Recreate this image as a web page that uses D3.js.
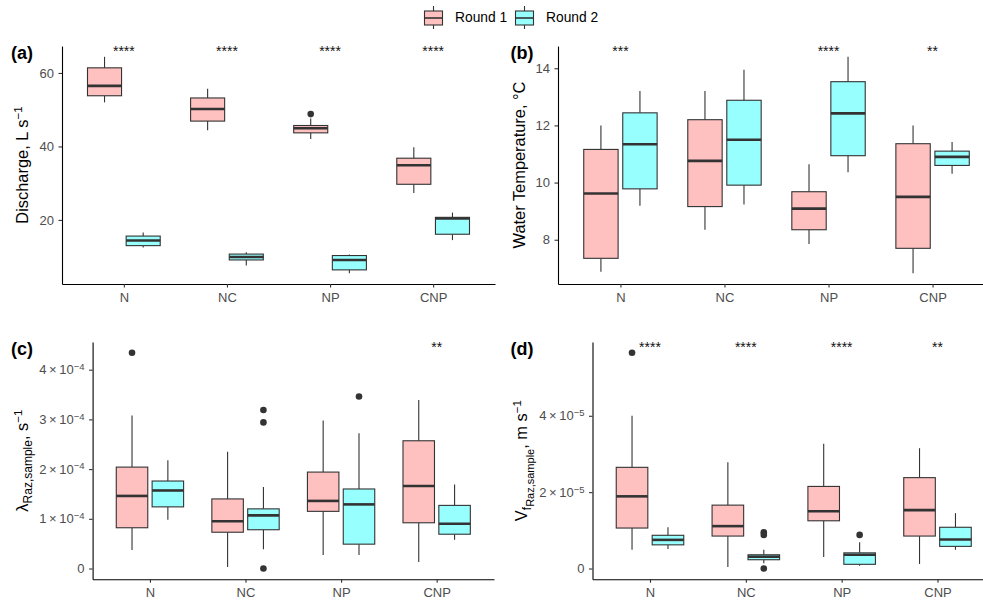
<!DOCTYPE html>
<html>
<head>
<meta charset="utf-8">
<script src="https://cdn.jsdelivr.net/npm/d3@7"></script>
<style>
body { margin: 0; background: #fff; }
svg { display: block; font-family: "Liberation Sans", Arial, Helvetica, sans-serif; }
</style>
</head>
<body>
<div id="chart"></div>
<script>
var categories = ["N", "NC", "NP", "CNP"];
var rounds = ["Round 1", "Round 2"];

// box stats per category: [lower whisker, q1, median, q3, upper whisker]
var dischargeR1 = [[52.0, 53.8, 56.5, 61.4, 64.4], [44.4, 46.9, 50.2, 53.2, 55.7], [42.0, 43.7, 44.95, 45.7, 47.6], [27.3, 29.7, 34.9, 36.8, 39.8]];
var dischargeR2 = [[12.5, 13.0, 14.4, 15.6, 16.6], [7.6, 9.1, 9.9, 10.7, 11.2], [5.5, 6.4, 9.1, 10.3, 10.6], [14.5, 16.1, 20.4, 20.7, 22.0]];
var dischargeOut = [["NP", "Round 1", 48.8]];

var tempR1 = [[6.88, 7.35, 9.62, 11.16, 12.0], [8.35, 9.16, 10.76, 12.2, 13.2], [7.85, 8.35, 9.09, 9.68, 10.64], [6.83, 7.7, 9.5, 11.36, 12.0]];
var tempR2 = [[9.19, 9.78, 11.34, 12.44, 13.2], [9.23, 9.91, 11.5, 12.88, 13.95], [10.36, 10.94, 12.42, 13.53, 14.4], [10.31, 10.6, 10.9, 11.1, 11.42]];
var tempOut = [];

// lambda, in units of 1e-4 s^-1
var lambdaR1 = [[0.37, 0.82, 1.46, 2.04, 3.08], [0.03, 0.73, 0.95, 1.40, 2.35], [0.27, 1.15, 1.36, 1.94, 2.98], [0.13, 0.92, 1.66, 2.57, 3.39]];
var lambdaR2 = [[0.98, 1.24, 1.57, 1.76, 2.18], [0.39, 0.78, 1.07, 1.20, 1.64], [0.27, 0.49, 1.29, 1.60, 2.72], [0.58, 0.69, 0.90, 1.27, 1.69]];
var lambdaOut = [["N", "Round 1", 4.34], ["NC", "Round 2", 3.19], ["NC", "Round 2", 2.94], ["NC", "Round 2", 0.0], ["NP", "Round 2", 3.46]];

// vf, in units of 1e-5 m s^-1
var vfR1 = [[0.49, 1.06, 1.89, 2.65, 4.0], [0.04, 0.85, 1.11, 1.66, 2.78], [0.30, 1.25, 1.50, 2.15, 3.27], [0.12, 0.85, 1.53, 2.38, 3.15]];
var vfR2 = [[0.51, 0.62, 0.75, 0.87, 1.08], [0.14, 0.23, 0.31, 0.36, 0.49], [0.07, 0.11, 0.36, 0.41, 0.69], [0.49, 0.58, 0.76, 1.08, 1.45]];
var vfOut = [["N", "Round 1", 5.65], ["NC", "Round 2", 0.95], ["NC", "Round 2", 0.88], ["NC", "Round 2", 0.0], ["NP", "Round 2", 0.88]];

var sigA = ["****", "****", "****", "****"];
var sigB = ["***", "", "****", "**"];
var sigC = ["", "", "", "**"];
var sigD = ["****", "****", "****", "**"];

var ticksA = [20, 40, 60];
var ticksB = [8, 10, 12, 14];
var ticksC = [0, 1, 2, 3, 4];
var ticksD = [0, 2, 4];

var W = 983, H = 601;
var svg = d3.select("#chart").append("svg")
  .attr("width", W)
  .attr("height", H);

var fill = d3.scaleOrdinal(rounds, ["#ffc0c0", "#98ffff"]);
var ink = "#333333";

var panels = [
  { label: "(a)", r1: dischargeR1, r2: dischargeR2, out: dischargeOut, sig: sigA, ticks: ticksA, exp: null,
    x0: 62, x1: 495, y0: 46, y1: 284, labX: 11, labY: 58.5, titleX: 28,
    title: [["Discharge, L s", 0, 16.4], ["\u22121", -6, 11.5]] },
  { label: "(b)", r1: tempR1, r2: tempR2, out: tempOut, sig: sigB, ticks: ticksB, exp: null,
    x0: 558, x1: 995, y0: 46, y1: 284, labX: 510.5, labY: 58.5, titleX: 525,
    title: [["Water Temperature, \u00b0C", 0, 16.4]] },
  { label: "(c)", r1: lambdaR1, r2: lambdaR2, out: lambdaOut, sig: sigC, ticks: ticksC, exp: -4,
    x0: 92.6, x1: 494, y0: 342, y1: 579.3, labX: 11, labY: 354.5, titleX: 28,
    title: [["\u03bb", 0, 16.4], ["Raz,sample", 4, 12], [", s", -4, 16.4], ["\u22121", -6, 11.5]] },
  { label: "(d)", r1: vfR1, r2: vfR2, out: vfOut, sig: sigD, ticks: ticksD, exp: -5,
    x0: 592.5, x1: 995, y0: 342, y1: 579.3, labX: 510.5, labY: 354.5, titleX: 526.5,
    title: [["V", 0, 16.4], ["f", 4, 12], ["Raz,sample", 3, 11], [", m s", -7, 16.4], ["\u22121", -6, 11.5]] }
];

panels.forEach(drawPanel);

function drawPanel(p) {
  var g = svg.append("g");

  var x = d3.scalePoint().domain(categories).range([p.x0, p.x1]).padding(0.6);
  var step = x.step();
  var dodge = d3.scaleBand().domain(rounds).range([-0.375 * step, 0.375 * step]);
  var boxW = 0.34 * step;

  var rows = [];
  categories.forEach(function (c, i) {
    rows.push({ cat: c, round: rounds[0], s: p.r1[i] });
    rows.push({ cat: c, round: rounds[1], s: p.r2[i] });
  });

  var vals = [];
  rows.forEach(function (r) { vals = vals.concat(r.s); });
  p.out.forEach(function (o) { vals.push(o[2]); });
  var lo = d3.min(vals), hi = d3.max(vals), pad = 0.05 * (hi - lo);

  var y = d3.scaleLinear()
    .domain([lo - pad, hi + pad])
    .range([p.y1, p.y0]);

  var cx = function (d) { return x(d.cat) + dodge(d.round) + dodge.bandwidth() / 2; };

  var box = g.selectAll("g.box")
    .data(rows)
    .enter().append("g")
    .attr("class", "box");

  box.append("line")
    .attr("x1", cx).attr("x2", cx)
    .attr("y1", function (d) { return y(d.s[4]); })
    .attr("y2", function (d) { return y(d.s[3]); })
    .attr("stroke", ink).attr("stroke-width", 1.1);

  box.append("line")
    .attr("x1", cx).attr("x2", cx)
    .attr("y1", function (d) { return y(d.s[1]); })
    .attr("y2", function (d) { return y(d.s[0]); })
    .attr("stroke", ink).attr("stroke-width", 1.1);

  box.append("rect")
    .attr("x", function (d) { return cx(d) - boxW / 2 + 0.5; })
    .attr("y", function (d) { return y(d.s[3]); })
    .attr("width", boxW - 1)
    .attr("height", function (d) { return y(d.s[1]) - y(d.s[3]); })
    .attr("fill", function (d) { return fill(d.round); })
    .attr("stroke", ink).attr("stroke-width", 1.1);

  box.append("line")
    .attr("x1", function (d) { return cx(d) - boxW / 2 + 0.5; })
    .attr("x2", function (d) { return cx(d) + boxW / 2 - 0.5; })
    .attr("y1", function (d) { return y(d.s[2]); })
    .attr("y2", function (d) { return y(d.s[2]); })
    .attr("stroke", ink).attr("stroke-width", 2.6);

  g.selectAll("circle.out")
    .data(p.out)
    .enter().append("circle")
    .attr("class", "out")
    .attr("cx", function (d) { return cx({ cat: d[0], round: d[1] }); })
    .attr("cy", function (d) { return y(d[2]); })
    .attr("r", 3.3)
    .attr("fill", ink);

  // significance stars
  g.selectAll("text.sig")
    .data(p.sig)
    .enter().append("text")
    .attr("class", "sig")
    .attr("x", function (d, i) { return x(categories[i]); })
    .attr("y", p.y0 + 9.7)
    .attr("text-anchor", "middle")
    .style("font-size", "14px")
    .attr("fill", "#111")
    .text(function (d) { return d; });

  // axes
  var xAxis = g.append("g")
    .attr("transform", "translate(0," + p.y1 + ")")
    .call(d3.axisBottom(x).tickSize(3.5).tickSizeOuter(0).tickPadding(5));
  xAxis.select(".domain").attr("stroke", "#000").attr("stroke-width", 1.1);
  xAxis.selectAll(".tick line").attr("stroke", ink).attr("stroke-width", 1.1);
  xAxis.selectAll(".tick text")
    .attr("fill", "#4d4d4d")
    .style("font-size", "13px")
    .style("font-family", "Liberation Sans, Arial, sans-serif");

  var yAxis = g.append("g")
    .attr("transform", "translate(" + p.x0 + ",0)")
    .call(d3.axisLeft(y).tickValues(p.ticks).tickFormat(function (d) { return String(d); })
      .tickSize(3.5).tickSizeOuter(0).tickPadding(4.5));
  yAxis.select(".domain").attr("stroke", "#000").attr("stroke-width", 1.1);
  yAxis.selectAll(".tick line").attr("stroke", ink).attr("stroke-width", 1.1);
  yAxis.selectAll(".tick text")
    .attr("fill", "#4d4d4d")
    .style("font-size", "13px")
    .style("font-family", "Liberation Sans, Arial, sans-serif")
    .each(function (d) {
      if (p.exp === null || d === 0) return;
      var t = d3.select(this).text("");
      t.append("tspan").text(d + "\u2009\u00d7\u200910");
      t.append("tspan").attr("dy", "-0.45em").style("font-size", "9.5px").text("\u2212" + Math.abs(p.exp));
    });

  // y title
  var cy = (p.y0 + p.y1) / 2;
  var tt = g.append("text")
    .attr("transform", "translate(" + p.titleX + "," + cy + ") rotate(-90)")
    .attr("text-anchor", "middle")
    .attr("fill", "#000");
  p.title.forEach(function (part) {
    tt.append("tspan")
      .attr("dy", part[1])
      .style("font-size", part[2] + "px")
      .text(part[0]);
  });

  // panel tag
  g.append("text")
    .attr("x", p.labX)
    .attr("y", p.labY)
    .style("font-size", "18px")
    .style("font-weight", "bold")
    .text(p.label);
}

// legend
var keyX = d3.scaleOrdinal(rounds, [424, 515]);
var leg = svg.selectAll("g.leg")
  .data(rounds)
  .enter().append("g")
  .attr("class", "leg")
  .attr("transform", function (d) { return "translate(" + keyX(d) + ",0)"; });

leg.append("line")
  .attr("x1", 9.5).attr("x2", 9.5).attr("y1", 6).attr("y2", 29)
  .attr("stroke", ink).attr("stroke-width", 1.1);
leg.append("rect")
  .attr("x", 0.5).attr("y", 11).attr("width", 18).attr("height", 14)
  .attr("fill", function (d) { return fill(d); })
  .attr("stroke", ink).attr("stroke-width", 1.1);
leg.append("line")
  .attr("x1", 0.5).attr("x2", 18.5).attr("y1", 18).attr("y2", 18)
  .attr("stroke", ink).attr("stroke-width", 1.6);
leg.append("text")
  .attr("x", 31)
  .attr("y", 22)
  .style("font-size", "13.8px")
  .attr("fill", "#000")
  .text(function (d) { return d; });
</script>
</body>
</html>
